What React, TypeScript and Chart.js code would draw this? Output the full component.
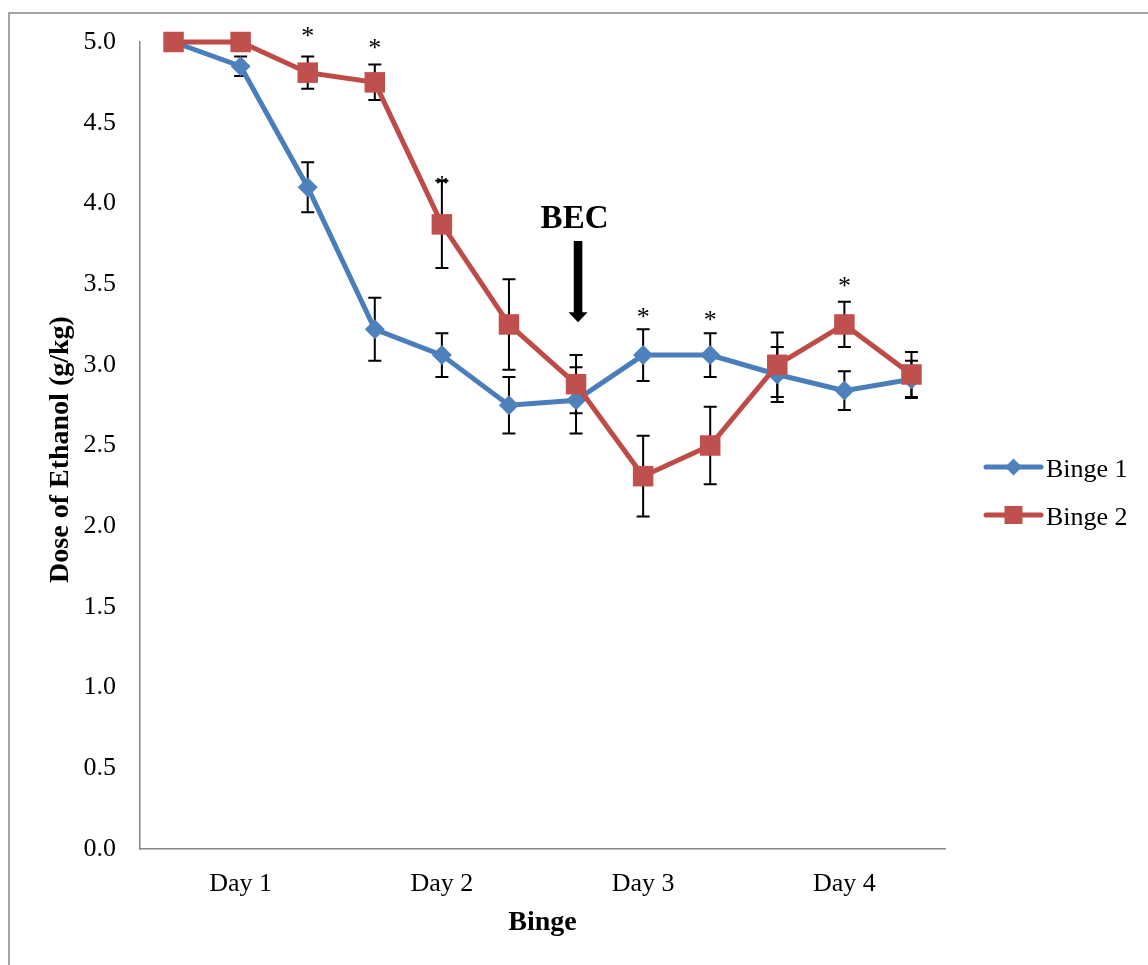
import { useEffect, useRef } from 'react';
import { Chart, registerables } from 'chart.js';

Chart.register(...registerables);

// ---- Data ----
const categories = ['D1a', 'D1b', 'D1c', 'D2a', 'D2b', 'D2c', 'D3a', 'D3b', 'D3c', 'D4a', 'D4b', 'D4c'];
const tickLabels = ['', 'Day 1', '', '', 'Day 2', '', '', 'Day 3', '', '', 'Day 4', ''];
const yTicks = [0, 0.5, 1, 1.5, 2, 2.5, 3, 3.5, 4, 4.5, 5];

const binge1 = [5.0, 4.85, 4.1, 3.22, 3.06, 2.75, 2.78, 3.06, 3.06, 2.94, 2.84, 2.91];
const binge1Err = [0, 0.06, 0.155, 0.195, 0.135, 0.175, 0.205, 0.16, 0.135, 0.17, 0.12, 0.115];
const binge2 = [5.0, 5.0, 4.81, 4.75, 3.87, 3.25, 2.88, 2.31, 2.5, 3.0, 3.25, 2.94];
const binge2Err = [0, 0, 0.1, 0.11, 0.27, 0.28, 0.18, 0.25, 0.24, 0.2, 0.14, 0.14];

// significance stars: category index and value where the star sits
const starIndex = [2, 3, 4, 7, 8, 10];
const starValue = [5.06, 4.99, 4.14, 3.32, 3.3, 3.51];

// BEC annotation
const becIndex = 6;
const becLabelValue = 3.848;
const becArrowTopValue = 3.767;
const becArrowTipValue = 3.263;

const seriesNames = ['Binge 1', 'Binge 2'];

const BLUE_LINE = '#4A7EBB';
const BLUE_MARK = '#4F81BD';
const RED_LINE = '#BE4B48';
const RED_MARK = '#C0504D';
const AXIS_GRAY = '#878787';
const FONT = '"Liberation Serif", "Times New Roman", serif';

const errorBarPlugin = {
  id: 'errorBars',
  beforeDatasetsDraw(chart: any) {
    const { ctx, scales } = chart;
    const x = scales.x;
    const y = scales.y;
    const sets = [
      { vals: binge1, errs: binge1Err },
      { vals: binge2, errs: binge2Err },
    ];
    ctx.save();
    ctx.strokeStyle = '#000';
    ctx.lineWidth = 2;
    sets.forEach((s) => {
      s.vals.forEach((v, i) => {
        const e = s.errs[i];
        if (!e) return;
        const px = x.getPixelForValue(i);
        const top = y.getPixelForValue(v + e);
        const bot = y.getPixelForValue(v - e);
        ctx.beginPath();
        ctx.moveTo(px, top);
        ctx.lineTo(px, bot);
        ctx.moveTo(px - 6.5, top);
        ctx.lineTo(px + 6.5, top);
        ctx.moveTo(px - 6.5, bot);
        ctx.lineTo(px + 6.5, bot);
        ctx.stroke();
      });
    });
    ctx.restore();
  },
};

const framePlugin = {
  id: 'frame',
  beforeDraw(chart: any) {
    const { ctx, width, height } = chart;
    ctx.save();
    ctx.fillStyle = '#fff';
    ctx.fillRect(0, 0, width, height);
    ctx.strokeStyle = AXIS_GRAY;
    ctx.lineWidth = 1.5;
    ctx.strokeRect(9, 13, width + 100, height + 100);
    ctx.restore();
  },
};

function drawDiamond(ctx: any, x: number, y: number, r: number, color: string) {
  ctx.beginPath();
  ctx.moveTo(x, y - r);
  ctx.lineTo(x + r, y);
  ctx.lineTo(x, y + r);
  ctx.lineTo(x - r, y);
  ctx.closePath();
  ctx.fillStyle = color;
  ctx.fill();
}

const annotationPlugin = {
  id: 'annotations',
  afterDraw(chart: any) {
    const { ctx, scales, chartArea } = chart;
    const x = scales.x;
    const y = scales.y;
    ctx.save();

    // stars
    ctx.fillStyle = '#000';
    ctx.font = `26px ${FONT}`;
    ctx.textAlign = 'center';
    ctx.textBaseline = 'alphabetic';
    starIndex.forEach((idx, k) => {
      const px = x.getPixelForValue(idx);
      const py = y.getPixelForValue(starValue[k]);
      ctx.fillText('*', px, py + 12);
    });

    // BEC label + arrow
    const bx = x.getPixelForValue(becIndex);
    ctx.font = `bold 33px ${FONT}`;
    ctx.fillText('BEC', bx - 1.5, y.getPixelForValue(becLabelValue));
    const shaftTop = y.getPixelForValue(becArrowTopValue);
    const tip = y.getPixelForValue(becArrowTipValue);
    const headBase = tip - 10;
    const ax = bx + 2;
    ctx.fillRect(ax - 4.3, shaftTop, 8.6, headBase - shaftTop + 1);
    ctx.beginPath();
    ctx.moveTo(ax - 9.5, headBase);
    ctx.lineTo(ax + 9.5, headBase);
    ctx.lineTo(ax, tip);
    ctx.closePath();
    ctx.fill();

    // axis titles
    ctx.font = `bold 28px ${FONT}`;
    ctx.textAlign = 'center';
    ctx.textBaseline = 'middle';
    ctx.fillText('Binge', (chartArea.left + chartArea.right) / 2, chartArea.bottom + 74);
    ctx.save();
    ctx.translate(chartArea.left - 79, (chartArea.top + chartArea.bottom) / 2 + 4);
    ctx.rotate(-Math.PI / 2);
    ctx.fillText('Dose of Ethanol (g/kg)', 0, 0);
    ctx.restore();

    // legend
    const lx0 = chartArea.right + 41;
    const lx1 = chartArea.right + 96;
    const items = [
      { name: seriesNames[0], line: BLUE_LINE, mark: BLUE_MARK, shape: 'diamond', y: 467 },
      { name: seriesNames[1], line: RED_LINE, mark: RED_MARK, shape: 'square', y: 515 },
    ];
    items.forEach((it) => {
      ctx.strokeStyle = it.line;
      ctx.lineWidth = 5;
      ctx.lineCap = 'round';
      ctx.beginPath();
      ctx.moveTo(lx0, it.y);
      ctx.lineTo(lx1, it.y);
      ctx.stroke();
      const mx = (lx0 + lx1) / 2;
      if (it.shape === 'diamond') {
        drawDiamond(ctx, mx, it.y, 8.5, it.mark);
      } else {
        ctx.fillStyle = it.mark;
        ctx.fillRect(mx - 9, it.y - 9, 18, 18);
      }
      ctx.fillStyle = '#000';
      ctx.font = `26px ${FONT}`;
      ctx.textAlign = 'left';
      ctx.textBaseline = 'alphabetic';
      ctx.fillText(it.name, lx1 + 5, it.y + 10);
    });

    ctx.restore();
  },
};

export default function App() {
  const canvasRef = useRef<HTMLCanvasElement | null>(null);

  useEffect(() => {
    if (!canvasRef.current) return;
    const chart = new Chart(canvasRef.current, {
      type: 'line',
      data: {
        labels: categories,
        datasets: [
          {
            label: seriesNames[1],
            data: binge2,
            borderColor: RED_LINE,
            borderWidth: 5,
            backgroundColor: RED_MARK,
            pointBackgroundColor: RED_MARK,
            pointBorderColor: RED_MARK,
            pointBorderWidth: 0,
            pointStyle: 'rect',
            pointRadius: 14.5,
            pointHoverRadius: 14.5,
            tension: 0,
            clip: false,
            order: 0,
          },
          {
            label: seriesNames[0],
            data: binge1,
            borderColor: BLUE_LINE,
            borderWidth: 5,
            backgroundColor: BLUE_MARK,
            pointBackgroundColor: BLUE_MARK,
            pointBorderColor: BLUE_MARK,
            pointBorderWidth: 0,
            pointStyle: 'rectRot',
            pointRadius: 10,
            pointHoverRadius: 10,
            tension: 0,
            clip: false,
            order: 1,
          },
        ],
      },
      options: {
        responsive: false,
        animation: false,
        maintainAspectRatio: false,
        layout: { padding: { left: 0, top: 42, right: 203, bottom: 0 } },
        plugins: {
          legend: { display: false },
          tooltip: { enabled: false },
        },
        scales: {
          x: {
            type: 'category',
            offset: true,
            grid: { display: false, drawTicks: false },
            border: { display: true, color: AXIS_GRAY, width: 1.5 },
            ticks: {
              autoSkip: false,
              maxRotation: 0,
              padding: 20,
              color: '#000',
              font: { family: FONT, size: 26 },
              callback: (_v: any, i: number) => tickLabels[i],
            },
            afterFit: (s: any) => {
              s.height = 116;
            },
          },
          y: {
            min: 0,
            max: 5,
            grid: { display: false, drawTicks: false },
            border: { display: true, color: AXIS_GRAY, width: 1.5 },
            afterBuildTicks: (s: any) => {
              s.ticks = yTicks.map((v) => ({ value: v }));
            },
            ticks: {
              padding: 24,
              color: '#000',
              font: { family: FONT, size: 26 },
              callback: (v: any) => Number(v).toFixed(1),
            },
            afterFit: (s: any) => {
              s.width = 140;
            },
          },
        },
      },
      plugins: [framePlugin, errorBarPlugin, annotationPlugin],
    });
    return () => chart.destroy();
  }, []);

  return (
    <div style={{ position: 'fixed', left: 0, top: 0, width: 1148, height: 965, background: '#fff' }}>
      <canvas ref={canvasRef} width={1148} height={965} style={{ width: 1148, height: 965, display: 'block' }} />
    </div>
  );
}
